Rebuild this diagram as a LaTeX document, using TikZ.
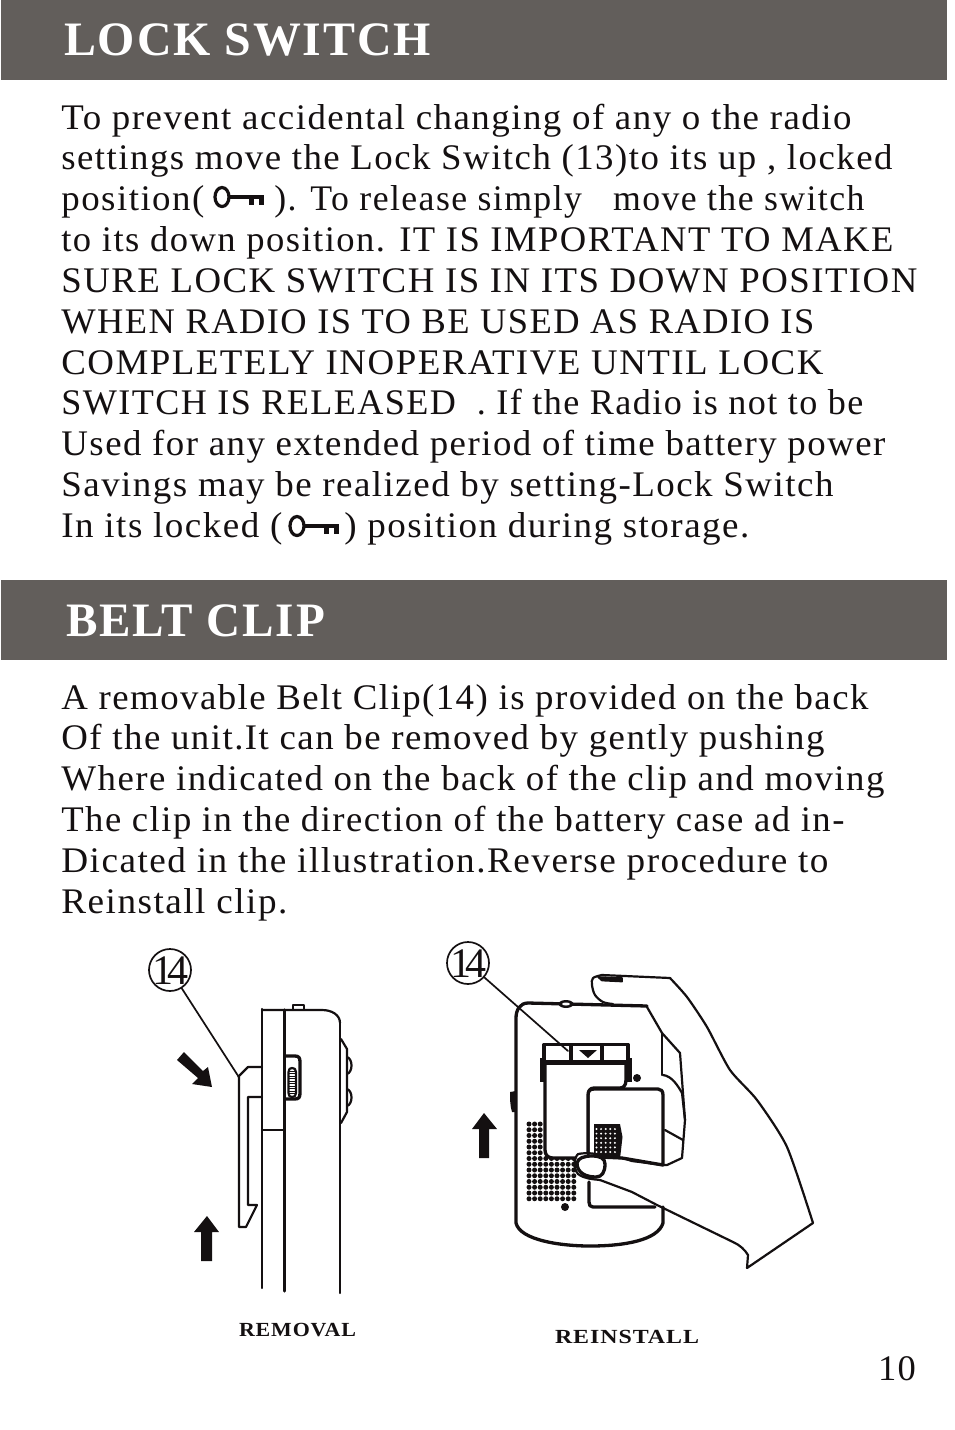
\documentclass[tikz,border=0pt]{standalone}
\usepackage{fontspec}
\usepackage{graphicx}
\setmainfont{Liberation Serif}
\newfontfamily\bodyf[LetterSpace=4]{Liberation Serif}
\newfontfamily\headf[LetterSpace=4]{Liberation Serif}
\definecolor{bandgray}{HTML}{625E5B}
\definecolor{ink}{HTML}{141011}
\tikzset{
  band/.style={fill=bandgray,draw=none},
  txt/.style={anchor=base west,inner sep=0pt,outer sep=0pt,text=ink},
  headtxt/.style={anchor=base west,inner sep=0pt,outer sep=0pt,text=white},
  thin line/.style={draw=ink,line width=1.7pt,line join=round,line cap=round},
  mid line/.style={draw=ink,line width=2.2pt,line join=round,line cap=round},
  heavy line/.style={draw=ink,line width=3.3pt,line join=round,line cap=round},
  solid ink/.style={fill=ink,draw=none},
  callout/.style={circle,draw=ink,line width=1.7pt,minimum size=42pt,inner sep=0pt,text=ink},
  keyicon/.pic={
    \draw[draw=ink,line width=3.2pt] (8,10) ellipse [x radius=7,y radius=9.5];
    \fill[ink] (14,8.3) rectangle (50,11.7);
    \fill[ink] (35,11) rectangle (40,18);
    \fill[ink] (45,11) rectangle (50,18);
  }
}
\newcommand{\tl}[5]{\node[txt] (#1) at (#2-0.6,#3-1) {\resizebox{#4pt}{\height}{\fontsize{36}{40}\bodyf #5}};}
\newcommand{\fourteen}{\makebox[0pt][c]{\smash{\fontsize{42}{42}\selectfont 1\kern-6pt 4}}}
\begin{document}
\begin{tikzpicture}[x=1pt,y=-1pt]
\useasboundingbox (0,0) rectangle (954,1430);
\fill[white] (0,0) rectangle (954,1430);
% bands
\path[band] (1,0) rectangle (947,80);
\path[band] (1,580) rectangle (947,660);
\node[headtxt] (h1) at (64,55) {\resizebox{367pt}{\height}{\fontsize{48}{50}\headf\bfseries LOCK SWITCH}};
\node[headtxt] (h2) at (66,636) {\resizebox{259pt}{\height}{\fontsize{48}{50}\headf\bfseries BELT CLIP}};
% lock text
\tl{a1}{62}{130}{790}{To prevent accidental changing of any o the radio}
\tl{a2}{62}{170}{831}{settings move the Lock Switch (13)to its up , locked}
\tl{a3a}{62}{211}{143}{position(}
\tl{a3b}{275}{211}{590}{). To release simply\ \ \ move the switch}
\tl{a4}{62}{252}{832}{to its down position. IT IS IMPORTANT TO MAKE}
\tl{a5}{62}{293}{856}{SURE LOCK SWITCH IS IN ITS DOWN POSITION}
\tl{a6}{62}{334}{753}{WHEN RADIO IS TO BE USED AS RADIO IS}
\tl{a7}{62}{375}{762}{COMPLETELY INOPERATIVE UNTIL LOCK}
\tl{a8}{62}{415}{802}{SWITCH IS RELEASED\ \ . If the Radio is not to be}
\tl{a9}{62}{456}{824}{Used for any extended period of time battery power}
\tl{a10}{62}{497}{772}{Savings may be realized by setting-Lock Switch}
\tl{a11a}{62}{538}{221}{In its locked (}
\tl{a11b}{345}{538}{405}{) position during storage.}
\pic at (214,187) {keyicon};
\pic at (289,516) {keyicon};
% belt text
\tl{b1}{62}{710}{807}{A removable Belt Clip(14) is provided on the back}
\tl{b2}{62}{750}{763}{Of the unit.It can be removed by gently pushing}
\tl{b3}{62}{791}{823}{Where indicated on the back of the clip and moving}
\tl{b4}{62}{832}{783}{The clip in the direction of the battery case ad in-}
\tl{b5}{62}{873}{767}{Dicated in the illustration.Reverse procedure to}
\tl{b6}{62}{914}{226}{Reinstall clip.}
% captions
\node[txt] (cap1) at (239,1336) {\resizebox{117pt}{\height}{\fontsize{20}{22}\bodyf\bfseries REMOVAL}};
\node[txt] (cap2) at (555,1343) {\resizebox{144pt}{\height}{\fontsize{20}{22}\bodyf\bfseries REINSTALL}};
\node[txt] (pg) at (878,1380) {\resizebox{38pt}{\height}{\fontsize{36}{40}\bodyf 10}};

%% LEFT: side view
\node[callout] (c1) at (170,970) {};
\node[text=ink,inner sep=0pt,anchor=base] (c1t) at (170,984) {\fourteen};
\coordinate (tip1) at (238.5,1076.5);
\draw[thin line] (c1) -- (tip1);
% clip
\draw[mid line] (tip1) -- (248,1067) -- (262,1067);
\draw[mid line] (239,1077) -- (239,1227) -- (246,1227) -- (257,1205) -- (248,1205) -- (248,1097) -- (262,1097);
% body
\draw[mid line] (262,1009) -- (262,1288);
\draw[heavy line] (284.5,1010) -- (284.5,1291);
\draw[mid line] (340,1023) -- (340,1293);
\draw[mid line] (262,1010) -- (322,1010) .. controls (332,1010) and (340,1015) .. (340,1023);
\draw[thin line] (293,1010) -- (293,1005) -- (304,1005) -- (304,1010);
\draw[mid line] (262,1130) -- (284,1130);
% slider
\draw[heavy line] (286,1056) -- (295,1056) .. controls (299,1056) and (300,1058) .. (300,1062) -- (300,1093) .. controls (300,1097) and (299,1099) .. (295,1099) -- (286,1099);
\draw[mid line,fill=white] (288.5,1072) .. controls (288.5,1069) and (290,1068) .. (292,1068) .. controls (294.5,1068) and (296,1069) .. (296,1072) -- (296,1093) .. controls (296,1096) and (294.5,1097) .. (292,1097) .. controls (290,1097) and (288.5,1096) .. (288.5,1093) -- cycle;
\foreach \yy in {1071,1073.5,...,1095}{\draw[draw=ink,line width=1pt] (289,\yy) -- (296,\yy);}
% side buttons
\draw[mid line] (341,1039) -- (347,1049) -- (347,1112) -- (341,1123);
\draw[mid line] (347,1057) .. controls (353,1059) and (353,1072) .. (347,1074);
\draw[mid line] (347,1089) .. controls (353,1091) and (353,1104) .. (347,1106);
% arrows
\fill[solid ink] (184,1052) -- (203,1071) -- (208,1067) -- (212,1087) -- (192,1084) -- (198,1078) -- (177,1060) -- cycle;
\fill[solid ink] (207,1216) -- (219,1232) -- (212,1232) -- (212,1261) -- (201,1261) -- (201,1232) -- (194,1232) -- cycle;

%% RIGHT: back view
\node[callout] (c2) at (468,963) {};
\node[text=ink,inner sep=0pt,anchor=base] (c2t) at (468,977) {\fourteen};
\coordinate (tip2) at (568,1051);
\draw[thin line] (c2) -- (tip2);
% body
\draw[heavy line] (647,1006) -- (528,1003) .. controls (520,1003) and (516,1010) .. (516,1018) -- (516,1223) .. controls (520,1240) and (560,1246) .. (590,1246) .. controls (625,1246) and (658,1240) .. (663,1223) -- (663,1207);
\draw[solid ink] (510,1092) .. controls (510,1098) and (510,1106) .. (512,1112) -- (516,1112) -- (516,1091) -- cycle;
\fill[ink] (566,1004) ellipse [x radius=7.5,y radius=4];
\fill[white] (566,1004) ellipse [x radius=4,y radius=1.5];
% speaker dots
\foreach \r in {0,...,13}{
  \foreach \c in {0,...,8}{
    \pgfmathsetmacro{\px}{529+5.6*\c}
    \pgfmathsetmacro{\py}{1124+5.75*\r}
    \ifnum\r<6
      \ifnum\c<3 \fill[ink] (\px,\py) circle (2.5); \fi
    \else
      \fill[ink] (\px,\py) circle (2.5);
    \fi
  }
}
% battery door
\draw[heavy line,fill=white] (588,1158) -- (588,1095) .. controls (588,1091) and (590,1089) .. (594,1089) -- (658,1089) .. controls (661,1089) and (663,1091) .. (663,1095) -- (663,1165) -- (622,1158) -- (600,1157) -- cycle;
\draw[heavy line] (589,1182) -- (589,1202) .. controls (589,1205) and (590,1207) .. (593,1207) -- (655,1207);
% clip
\fill[white] (546,1062) rectangle (626,1085);
\fill[white] (546,1085) rectangle (587,1157);
\draw[heavy line] (626,1062) -- (626,1080) .. controls (626,1086) and (623,1088) .. (620,1088) -- (594,1088) .. controls (590,1088) and (588,1091) .. (588,1095) -- (588,1152);
\draw[heavy line] (545,1062) -- (545,1150) .. controls (545,1155) and (548,1158) .. (553,1158) -- (575,1158);
\draw[heavy line] (544,1062) -- (544,1044.5) -- (628,1044.5) -- (628,1062);
\fill[ink] (540,1060) rectangle (632,1064.5);
\fill[ink] (540,1058) rectangle (546,1082);
\fill[ink] (626,1058) rectangle (632,1082);
\fill[ink] (569,1044) rectangle (573,1062);
\fill[ink] (600,1044) rectangle (604,1062);
\fill[ink] (579,1050) -- (597,1050) -- (588,1058) -- cycle;
\fill[ink] (637,1078) circle (4);
\fill[ink] (565,1207) circle (4);
% dark panel in door
\fill[ink] (594,1124) -- (620,1124) -- (622.5,1137) -- (620,1159) -- (594,1155) -- cycle;
\foreach \r in {0,...,5}{\foreach \c in {0,...,4}{
  \fill[white] ({596.5+4.6*\c},{1129+4.6*\r}) circle (1.1);
}}
% hand
\draw[mid line] plot[smooth,tension=.45] coordinates {(603,1157) (622,1158) (632,1161) (640,1162) (662,1165)} -- (667,1165) -- (682,1158) -- (685,1120) -- (680,1053) -- (662,1033) -- (647,1007);
\draw[mid line] (662,1033) -- (662,1075);
\draw[mid line] (663,1075) .. controls (672,1076) and (678,1086) .. (682,1093) -- (685,1120);
\draw[mid line] (665,1130) -- (683,1140);
\draw[mid line] plot[smooth,tension=.55] coordinates {(613,1004) (603,1002) (595,995) (592,985) (593,978) (602,975)} -- (670,978);
\draw[mid line] plot[smooth,tension=.4] coordinates {(670,978) (687,997) (707,1027) (730,1070) (757,1100) (787,1147) (813,1223)} -- (747,1268) -- (748,1255) .. controls (745,1250) and (740,1245) .. (733,1242) -- (657,1205) -- (632,1192) -- (600,1180);
% index nail
\draw[thin line,fill=ink] (598,977) -- (622,978) -- (622,981.5) -- (602,980.5) -- cycle;
% thumb
\draw[heavy line,fill=white] (577,1163) .. controls (578,1158) and (584,1156) .. (592,1156) .. controls (600,1156) and (605,1158) .. (605,1164) .. controls (605,1172) and (602,1177) .. (596,1177) .. controls (586,1177) and (577,1173) .. (577,1163) -- cycle;
\draw[mid line] (578,1154) .. controls (574,1158) and (573,1168) .. (578,1174) .. controls (585,1179) and (592,1179) .. (600,1180);
\draw[mid line] (578,1154) .. controls (588,1152) and (600,1154) .. (606,1157);
% arrow
\fill[solid ink] (484,1113) -- (497,1129) -- (489,1129) -- (489,1158) -- (479,1158) -- (479,1129) -- (472,1129) -- cycle;
\end{tikzpicture}
\end{document}
